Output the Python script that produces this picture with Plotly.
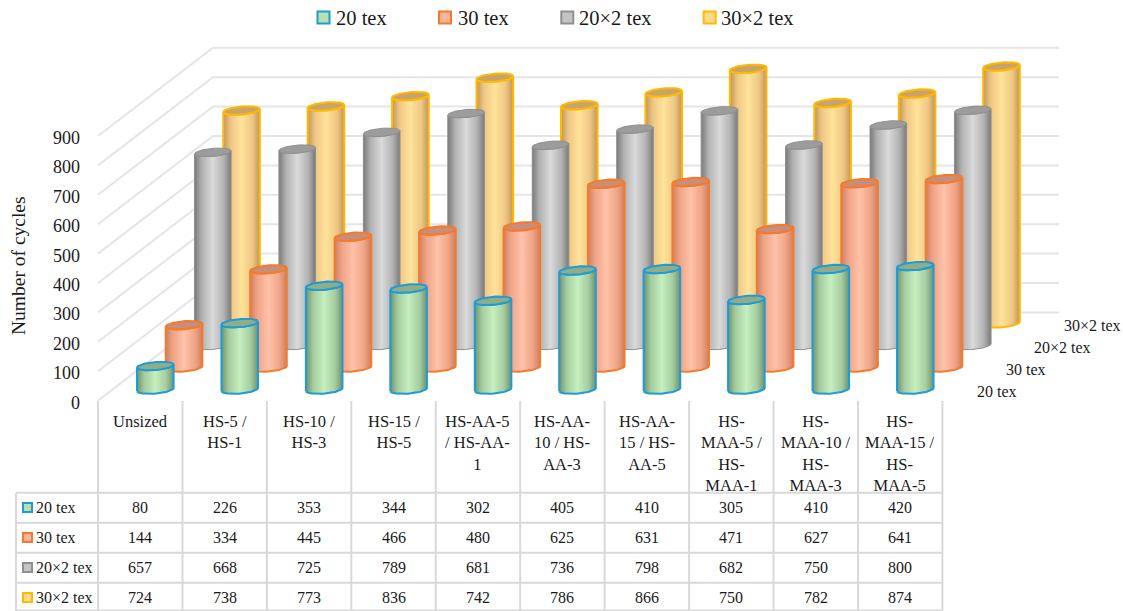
import numpy as np
import plotly.graph_objects as go

# ---------- data ----------
categories = ["Unsized", "HS-5 /<br>HS-1", "HS-10 /<br>HS-3", "HS-15 /<br>HS-5",
              "HS-AA-5<br>/ HS-AA-<br>1", "HS-AA-<br>10 / HS-<br>AA-3", "HS-AA-<br>15 / HS-<br>AA-5",
              "HS-<br>MAA-5 /<br>HS-<br>MAA-1", "HS-<br>MAA-10 /<br>HS-<br>MAA-3", "HS-<br>MAA-15 /<br>HS-<br>MAA-5"]
series_names = ["20 tex", "30 tex", "20×2 tex", "30×2 tex"]
tex_20 = [80, 226, 353, 344, 302, 405, 410, 305, 410, 420]
tex_30 = [144, 334, 445, 466, 480, 625, 631, 471, 627, 641]
tex_20x2 = [657, 668, 725, 789, 681, 736, 798, 682, 750, 800]
tex_30x2 = [724, 738, 773, 836, 742, 786, 866, 750, 782, 874]
series_values = [tex_20, tex_30, tex_20x2, tex_30x2]
tick_values = [0, 100, 200, 300, 400, 500, 600, 700, 800, 900]

# ---------- styles ----------
line_colors = ["#1F9BD6", "#F47B2C", "#8F8F8F", "#FFB900"]
edge_colors = ["#6F9270", "#CF7F60", "#7A7A7A", "#BE9558"]
mid_colors = ["#A4CC9F", "#EFA487", "#B2B2B2", "#EEC684"]
center_colors = ["#C6EFBF", "#FFC2A9", "#DADADA", "#FFE39A"]
cap_colors = ["#8FAD88", "#C98D78", "#9C9C9C", "#C9A468"]
key_colors = ["#B7DFB0", "#FFB39A", "#C4C4C4", "#FFD98A"]
line_widths = [2, 2, 1, 2]
grid_color = "#E5E5E5"
table_color = "#D9D9D9"
text_color = "#1A1A1A"
FONT = "Liberation Serif"

# ---------- oblique projection geometry ----------
W, H = 1123, 611
PX_PER_CAT = 84.44
PX_PER_VAL = 0.294
LEFT_PX, ZERO_PX = 98.0, 400.6
DEPTH_X = 28.75 / PX_PER_CAT    # category units per depth step
DEPTH_Y = 75.0                  # value units per depth step
RX = 18.3 / PX_PER_CAT
RY = 4.0 / PX_PER_VAL
TILT = 1.5 / PX_PER_VAL
NUDGE = 0.7 / PX_PER_CAT


def xd(px):
    return -0.5 + (px - LEFT_PX) / PX_PER_CAT


def yd(py):
    return (ZERO_PX - py) / PX_PER_VAL


fig = go.Figure()

# walls: side wall and back wall gridlines
gx, gy = [], []
n = len(categories)
for v in tick_values:
    gx += [-0.5, -0.5 + 4 * DEPTH_X, n - 0.5 + 4 * DEPTH_X + 0.02, None]
    gy += [v, v + 4 * DEPTH_Y, v + 4 * DEPTH_Y, None]
fig.add_trace(go.Scatter(x=gx, y=gy, mode="lines", line=dict(color=grid_color, width=2),
                         hoverinfo="skip", showlegend=False))

# cylinders, back series first
t_front = np.linspace(np.pi, 0, 40)      # left to right along the near arc
t_all = np.linspace(0, 2 * np.pi, 80)
for s in [3, 2, 1, 0]:
    scale = [[0, edge_colors[s]], [0.2, mid_colors[s]], [0.5, center_colors[s]],
             [0.8, mid_colors[s]], [1, edge_colors[s]]]
    for i, val in enumerate(series_values[s]):
        cx = i + (s + 0.5) * DEPTH_X + NUDGE
        base = (s + 0.5) * DEPTH_Y
        top = base + val
        bx = cx + RX * np.cos(t_front)
        by = base - RY * np.sin(t_front) + TILT * np.cos(t_front)
        tx = cx + RX * np.cos(t_front[::-1])
        ty = top - RY * np.sin(t_front[::-1]) + TILT * np.cos(t_front[::-1])
        fig.add_trace(go.Scatter(
            x=np.r_[bx, tx, bx[0]], y=np.r_[by, ty, by[0]], mode="lines", fill="toself",
            fillgradient=dict(type="horizontal", colorscale=scale),
            line=dict(color=line_colors[s], width=line_widths[s]),
            name=series_names[s], hoverinfo="skip", showlegend=False))
        fig.add_trace(go.Scatter(
            x=cx + RX * np.cos(t_all),
            y=top + RY * np.sin(t_all) + TILT * np.cos(t_all),
            mode="lines", fill="toself", fillcolor=cap_colors[s],
            line=dict(color=line_colors[s], width=line_widths[s]),
            hoverinfo="skip", showlegend=False))

# data table grid
row_lines_px = [492.7, 522.7, 552.7, 582.7, 610.5]
tx_, ty_ = [], []
for p in row_lines_px:
    tx_ += [xd(16), n - 0.5, None]
    ty_ += [yd(p), yd(p), None]
for i in range(n + 1):
    tx_ += [i - 0.5, i - 0.5, None]
    ty_ += [yd(401), yd(611), None]
tx_ += [xd(16), xd(16), None]
ty_ += [yd(row_lines_px[0]), yd(611), None]
fig.add_trace(go.Scatter(x=tx_, y=ty_, mode="lines", line=dict(color=table_color, width=2),
                         hoverinfo="skip", showlegend=False))

annotations = []


def label(x, y, text, size, xanchor="center", yanchor="middle", angle=0):
    annotations.append(dict(x=x, y=y, xref="x", yref="y", text=text, showarrow=False,
                            xanchor=xanchor, yanchor=yanchor, align="center", textangle=angle,
                            borderpad=0, font=dict(family=FONT, size=size, color=text_color)))


# table header
for i, c in enumerate(categories):
    label(i, yd(410.5), c, 16.5, yanchor="top")

# table rows + keys
row_center_px = [507.5, 537.5, 567.5, 597.5]
for s in range(4):
    label(xd(35), yd(row_center_px[s]), series_names[s], 16, xanchor="left")
    for i, val in enumerate(series_values[s]):
        label(i, yd(row_center_px[s]), str(val), 16)

# top legend (drawn keys, text)
legend_key_px = [323.5, 445, 567.3, 709.7]
legend_text_px = [335, 457, 578, 720]
for s in range(4):
    label(xd(legend_text_px[s]), yd(17.5), series_names[s], 20.5, xanchor="left")
    fig.add_trace(go.Scatter(
        x=[xd(legend_key_px[s])], y=[yd(17.5)], mode="markers",
        marker=dict(symbol="square", size=12, color=key_colors[s],
                    line=dict(color=line_colors[s], width=2)),
        name=series_names[s], hoverinfo="skip", showlegend=False))
    fig.add_trace(go.Scatter(
        x=[xd(27.5)], y=[yd(row_center_px[s])], mode="markers",
        marker=dict(symbol="square", size=9, color=key_colors[s],
                    line=dict(color=line_colors[s], width=2)),
        hoverinfo="skip", showlegend=False))

# depth axis labels
depth_label_px = [(976, 391), (1005, 369), (1033, 347), (1063, 325)]
for s, (px, py) in enumerate(depth_label_px):
    label(xd(px), yd(py), series_names[s], 16, xanchor="left")

# value axis title
label(xd(18), yd(266), "Number of cycles", 19.5, angle=-90)

fig.update_layout(
    width=W, height=H, margin=dict(l=0, r=0, t=0, b=0), autosize=False,
    paper_bgcolor="white", plot_bgcolor="white", showlegend=False,
    annotations=annotations,
    xaxis=dict(range=[xd(0), xd(W)], visible=False, fixedrange=True, domain=[0, 1]),
    yaxis=dict(range=[yd(H), yd(0)], domain=[0, 1], anchor="free", position=LEFT_PX / W,
               tickmode="array", tickvals=[v - 6 for v in tick_values],
               ticktext=[str(v) for v in tick_values],
               showgrid=False, zeroline=False, showline=False, ticks="", ticklabelstandoff=18,
               tickfont=dict(family=FONT, size=18, color=text_color),
               fixedrange=True),
)
fig.write_html("out.html", post_script="document.body.style.margin='0';",
               config={"displayModeBar": False})
